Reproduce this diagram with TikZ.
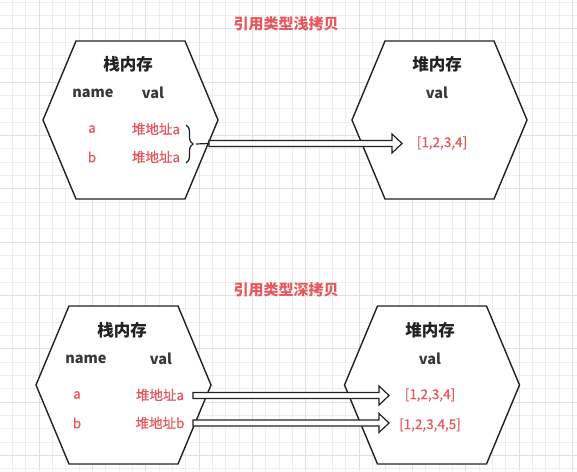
\documentclass[tikz,border=0pt]{standalone}
\usepackage{fontspec}
\setmainfont{Noto Sans CJK SC}
\newfontfamily\medfont[FakeBold=0.6]{Noto Sans CJK SC}
\usetikzlibrary{calc,decorations.pathreplacing}
\definecolor{redtxt}{RGB}{230,88,92}
\definecolor{inkc}{RGB}{34,34,34}
\definecolor{gridminor}{RGB}{238,238,238}
\definecolor{gridmajor}{RGB}{224,224,224}
\tikzset{
  hexbox/.style={draw=inkc, line width=1.4pt, fill=white, line join=miter},
  hexa/.pic={\path[hexbox] (-87.5,0) -- (-54.5,-79) -- (54.5,-79) -- (87.5,0) -- (54.5,79) -- (-54.5,79) -- cycle;},
  head/.style={font=\fontsize{16.5}{18}\selectfont\bfseries, text=inkc, inner sep=0pt},
  colhead/.style={font=\fontsize{14.5}{16}\selectfont\bfseries, text=inkc!90, inner sep=0pt},
  redlbl/.style={font=\fontsize{13.5}{15}\selectfont\medfont, text=redtxt, inner sep=0pt},
  titlelbl/.style={font=\fontsize{15}{18}\selectfont\bfseries, text=redtxt, inner sep=0pt},
  hollow/.style={draw=inkc, line width=1.2pt, fill=white, line join=miter},
  bracestyle/.style={draw=inkc, line width=1.2pt, decorate, decoration={brace, amplitude=7pt}},
}
\newcommand{\hollowarrow}[2]{%
  \path[hollow] ($(#1)+(0,-3)$) -- ($(#2)+(-10,-3)$) -- ($(#2)+(-10,-9.5)$) -- (#2)
    -- ($(#2)+(-10,9.5)$) -- ($(#2)+(-10,3)$) -- ($(#1)+(0,3)$) -- cycle;}
\begin{document}
\begin{tikzpicture}[x=1pt,y=-1pt]
\useasboundingbox (0,0) rectangle (577,471);
\fill[white] (0,0) rectangle (577,471);
% grid
\foreach \i in {0,...,43} {
  \draw[gridminor, line width=0.6pt] ({12.33+\i*13.333},0) -- ({12.33+\i*13.333},471);
}
\foreach \j in {0,...,35} {
  \draw[gridminor, line width=0.6pt] (0,{2+\j*13.333}) -- (577,{2+\j*13.333});
}
\foreach \i in {0,...,11} {
  \draw[gridmajor, line width=0.7pt] ({-14.33+\i*53.333},0) -- ({-14.33+\i*53.333},471);
}
\foreach \j in {0,...,9} {
  \draw[gridmajor, line width=0.7pt] (0,{28.67+\j*53.333}) -- (577,{28.67+\j*53.333});
}

% ---------- shallow copy ----------
\node[titlelbl] (t1) at (286,24) {引用类型浅拷贝};
\pic (hexL1) at (130.5,120) {hexa};
\pic (hexR1) at (439.5,120) {hexa};

\node[head] (stack1) at (128,64) {栈内存};
\node[colhead] (name1) at (93,93) {name};
\node[colhead] (val1) at (153,93) {val};
\node[redlbl] (a1) at (92,129) {a};
\node[redlbl] (b1) at (92,157) {b};
\node[redlbl] (addrA1) at (156,129) {堆地址a};
\node[redlbl] (addrB1) at (156,157) {堆地址a};

\node[head] (heap1) at (437,64) {堆内存};
\node[colhead] (hval1) at (437,93) {val};
\node[redlbl] (arr1) at (442,143) {[1,2,3,4]};

\coordinate (br1) at (186,125);
\coordinate (br2) at (186,163);
\coordinate (brtip) at (196,144);
\coordinate (s1) at (209,143.5);
\coordinate (e1) at (402,143.5);
\draw[bracestyle] (br1) -- (br2);
\draw[draw=inkc, line width=1.2pt] (brtip) -- (s1);
\hollowarrow{s1}{e1}

% ---------- deep copy ----------
\node[titlelbl] (t2) at (286,290) {引用类型深拷贝};
\pic (hexL2) at (123.5,385) {hexa};
\pic (hexR2) at (432,385) {hexa};

\node[head] (stack2) at (122,330) {栈内存};
\node[colhead] (name2) at (86,359) {name};
\node[colhead] (val2) at (161,359) {val};
\node[redlbl] (a2) at (77,395) {a};
\node[redlbl] (b2) at (77,423) {b};
\node[redlbl] (addrA2) at (160,395) {堆地址a};
\node[redlbl] (addrB2) at (160,423) {堆地址b};

\node[head] (heap2) at (430,330) {堆内存};
\node[colhead] (hval2) at (430,359) {val};
\node[redlbl] (arr2) at (430,395) {[1,2,3,4]};
\node[redlbl] (arr3) at (430,425) {[1,2,3,4,5]};

\coordinate (s2) at (193,395.5);
\coordinate (e2) at (389,395.5);
\coordinate (s3) at (193,423);
\coordinate (e3) at (389,423);
\hollowarrow{s2}{e2}
\hollowarrow{s3}{e3}
\end{tikzpicture}
\end{document}
